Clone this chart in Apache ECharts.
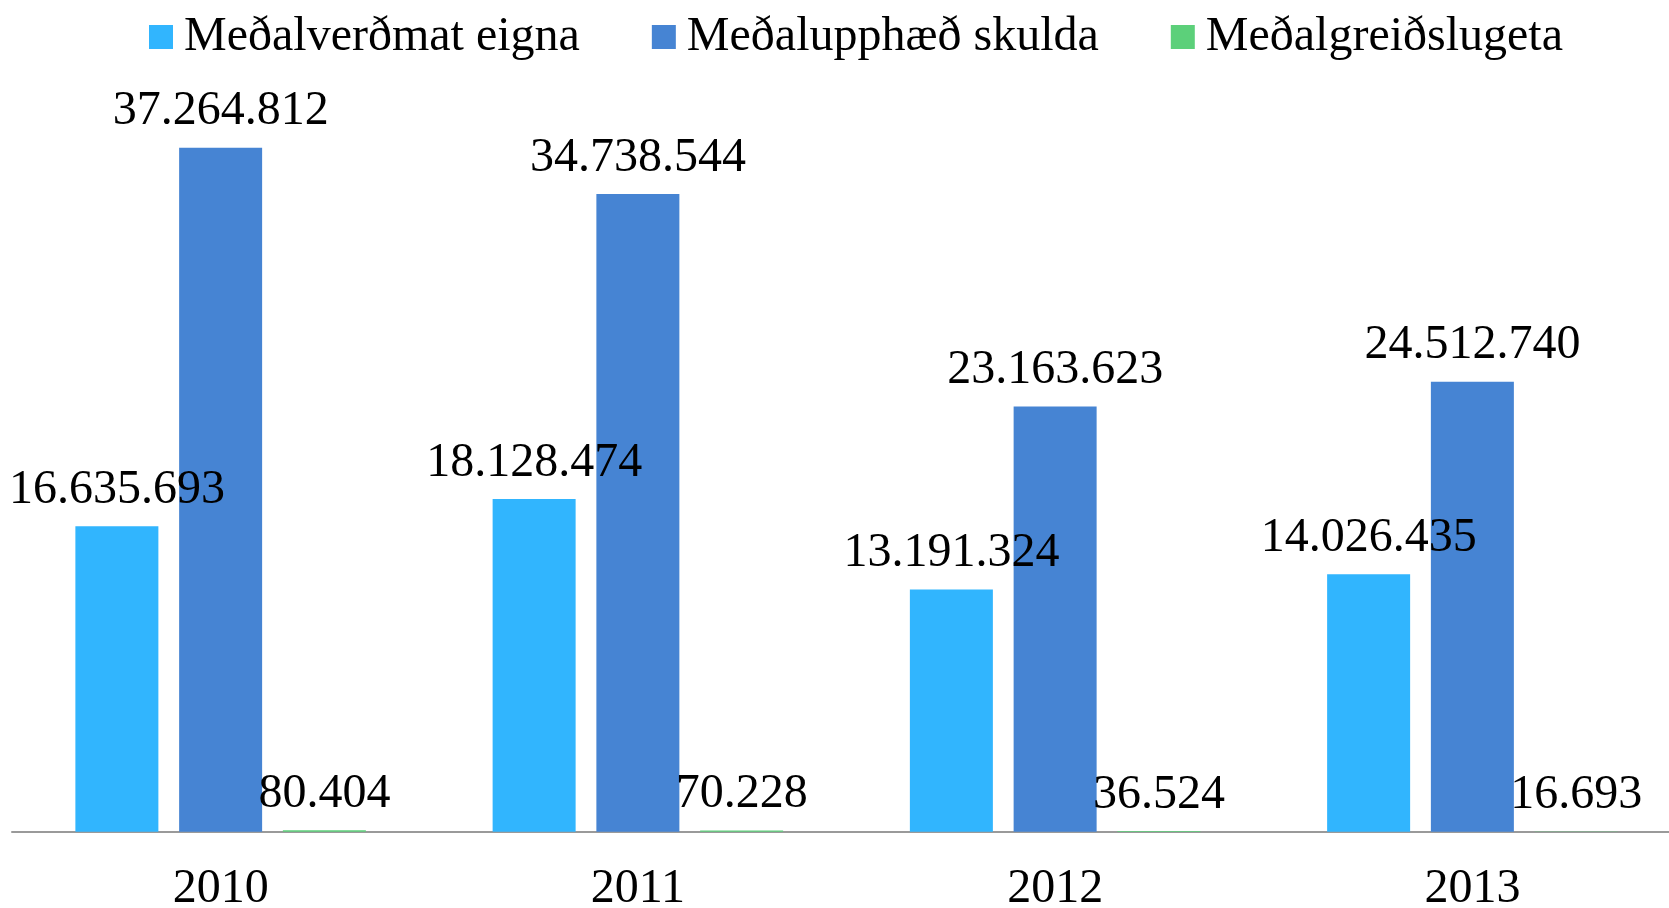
<!DOCTYPE html>
<html>
<head>
<meta charset="utf-8">
<script src="https://cdn.jsdelivr.net/npm/echarts@6/dist/echarts.min.js"></script>
<style>
  html, body { margin: 0; padding: 0; background: #fff; }
  #chart { width: 1669px; height: 908px; }
</style>
</head>
<body>
<div id="chart"></div>
<script>
// ár
const years = ['2010', '2011', '2012', '2013'];
// gildi raðanna
const eignir = [16635693, 18128474, 13191324, 14026435];
const skuldir = [37264812, 34738544, 23163623, 24512740];
const greidslugeta = [80404, 70228, 36524, 16693];
const seriesNames = ['Meðalverðmat eigna', 'Meðalupphæð skulda', 'Meðalgreiðslugeta'];
const colors = ['#31B5FE', '#4684D3', '#5CD07A'];

const FONT = "'Liberation Serif', 'Times New Roman', serif";

// punktar sem þúsundaskil
function fmt(v) {
  return String(v).replace(/\B(?=(\d{3})+(?!\d))/g, '.');
}

const chart = echarts.init(document.getElementById('chart'));

function bar(name, data, i) {
  return {
    name: name,
    type: 'bar',
    data: data,
    barWidth: 83,
    barGap: '25%',
    itemStyle: { color: colors[i] },
    label: {
      show: true,
      position: 'top',
      distance: 12,
      color: '#000',
      fontFamily: FONT,
      fontSize: 48,
      formatter: function (p) { return fmt(p.value); }
    }
  };
}

let option = {
  animation: false,
  backgroundColor: '#fff',
  legend: {
    top: 8,
    left: 144,
    itemWidth: 24,
    itemHeight: 24,
    itemGap: 72,
    icon: 'rect',
    textStyle: {
      fontFamily: FONT,
      fontSize: 48,
      color: '#000',
      padding: [0, 0, 0, 6]
    },
    data: seriesNames
  },
  grid: {
    left: 12,
    right: -12,
    top: 97.5,
    bottom: 76.3,
    outerBoundsMode: 'none',
    containLabel: false
  },
  xAxis: {
    type: 'category',
    data: years,
    axisLine: { lineStyle: { color: '#9a9a9a', width: 2 } },
    axisTick: { show: false },
    axisLabel: {
      color: '#000',
      fontFamily: FONT,
      fontSize: 48,
      margin: 34
    }
  },
  yAxis: {
    type: 'value',
    min: 0,
    max: 40000000,
    show: false,
    splitLine: { show: false }
  },
  series: [
    bar(seriesNames[0], eignir, 0),
    bar(seriesNames[1], skuldir, 1),
    bar(seriesNames[2], greidslugeta, 2)
  ]
};

chart.setOption(option);
window.addEventListener('resize', function () { chart.resize(); });
</script>
</body>
</html>
